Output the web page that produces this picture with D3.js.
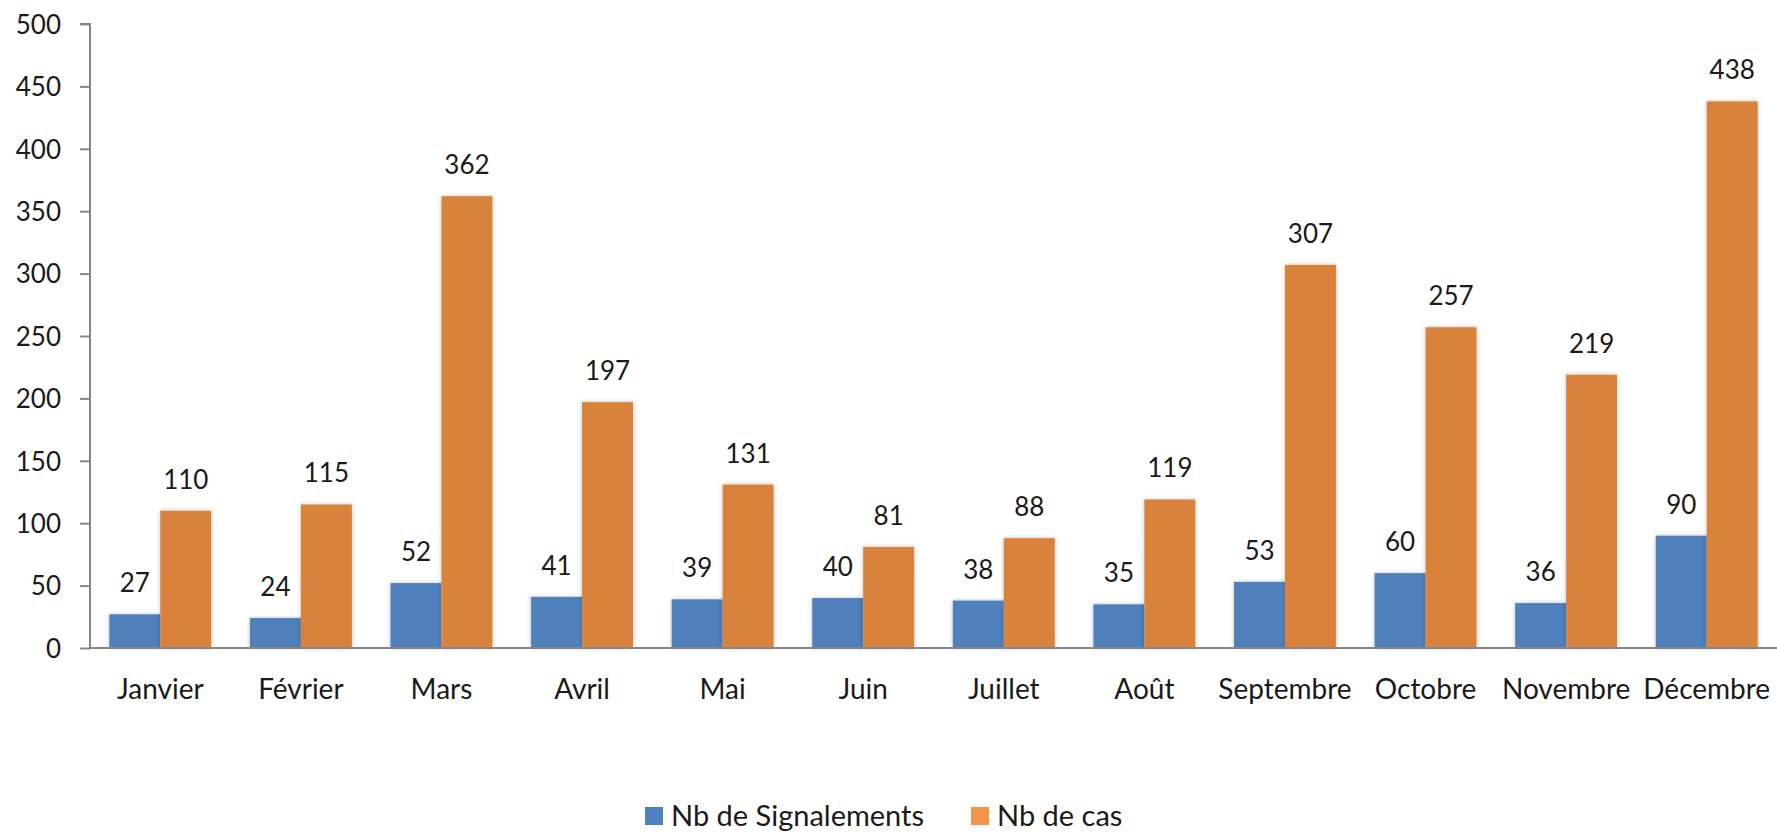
<!DOCTYPE html>
<html>
<head>
<meta charset="utf-8">
<script src="https://cdn.jsdelivr.net/npm/d3@7"></script>
<style>
  body { margin: 0; background: #fff; }
  text { font-family: Lato, "Noto Sans", sans-serif; fill: #1a1a1a; }
</style>
</head>
<body>
<svg id="chart"></svg>
<script>
var months = ["Janvier", "Février", "Mars", "Avril", "Mai", "Juin", "Juillet", "Août", "Septembre", "Octobre", "Novembre", "Décembre"];
var signalements = [27, 24, 52, 41, 39, 40, 38, 35, 53, 60, 36, 90];
var cas = [110, 115, 362, 197, 131, 81, 88, 119, 307, 257, 219, 438];
var seriesNames = ["Nb de Signalements", "Nb de cas"];
var yTicks = [0, 50, 100, 150, 200, 250, 300, 350, 400, 450, 500];

var w = 1777, h = 832;
var plotLeft = 90, plotRight = 1777, plotTop = 24, plotBottom = 648;
var colors = ["#4f81bd", "#d9823b"];
var legendColors = ["#4f81bd", "#f0954a"];

var svg = d3.select("#chart").attr("width", w).attr("height", h);

// soft shadow like the original
var defs = svg.append("defs");
var f = defs.append("filter").attr("id", "shadow").attr("x", "-20%").attr("y", "-5%").attr("width", "140%").attr("height", "110%");
f.append("feDropShadow").attr("dx", 0).attr("dy", 0).attr("stdDeviation", 2).attr("flood-color", "#000").attr("flood-opacity", 0.25);

var x = d3.scaleBand().domain(months).range([plotLeft, plotRight]).paddingInner(0.275).paddingOuter(0.1375);
var x1 = d3.scaleBand().domain([0, 1]).range([0, x.bandwidth()]);
var y = d3.scaleLinear().domain([0, 500]).range([plotBottom, plotTop]);

var data = months.map(function (m, i) {
  return {month: m, values: [signalements[i], cas[i]]};
});

// y axis
var yAxis = d3.axisLeft(y).tickValues(yTicks).tickSize(10).tickPadding(19);
var gy = svg.append("g").attr("transform", "translate(" + plotLeft + ",0)").call(yAxis);
gy.select(".domain").attr("stroke", "#868686").attr("stroke-width", 2).attr("d", "M-10," + plotTop + "H0V" + plotBottom);
gy.selectAll(".tick line").attr("stroke", "#868686").attr("stroke-width", 2);
gy.selectAll(".tick text").style("font-size", "26px").attr("dy", "0.36em");

// bars
var groups = svg.selectAll(".month").data(data).enter().append("g")
  .attr("transform", function (d) { return "translate(" + x(d.month) + ",0)"; });

groups.selectAll("rect").data(function (d) { return d.values; }).enter().append("rect")
  .attr("x", function (d, i) { return x1(i); })
  .attr("y", function (d) { return y(d); })
  .attr("width", x1.bandwidth())
  .attr("height", function (d) { return plotBottom - y(d); })
  .attr("fill", function (d, i) { return colors[i]; })
  .attr("filter", "url(#shadow)");

groups.selectAll(".val").data(function (d) { return d.values; }).enter().append("text")
  .attr("x", function (d, i) { return x1(i) + x1.bandwidth() / 2; })
  .attr("y", function (d) { return y(d) - 22; })
  .attr("text-anchor", "middle")
  .style("font-size", "26px")
  .text(function (d) { return d; });

// x axis
var xAxis = d3.axisBottom(x).tickSize(0).tickPadding(31);
var gx = svg.append("g").attr("transform", "translate(0," + plotBottom + ")").call(xAxis);
gx.select(".domain").attr("stroke", "#868686").attr("stroke-width", 2).attr("d", "M" + plotLeft + ",0H" + plotRight);
gx.selectAll(".tick text").style("font-size", "28px");

// legend
var legend = svg.append("g");
var lx = [645, 971];
seriesNames.forEach(function (name, i) {
  legend.append("rect").attr("x", lx[i]).attr("y", 807).attr("width", 18).attr("height", 18).attr("fill", legendColors[i]);
  legend.append("text").attr("x", lx[i] + 26).attr("y", 826).style("font-size", "29px").text(name);
});
</script>
</body>
</html>
